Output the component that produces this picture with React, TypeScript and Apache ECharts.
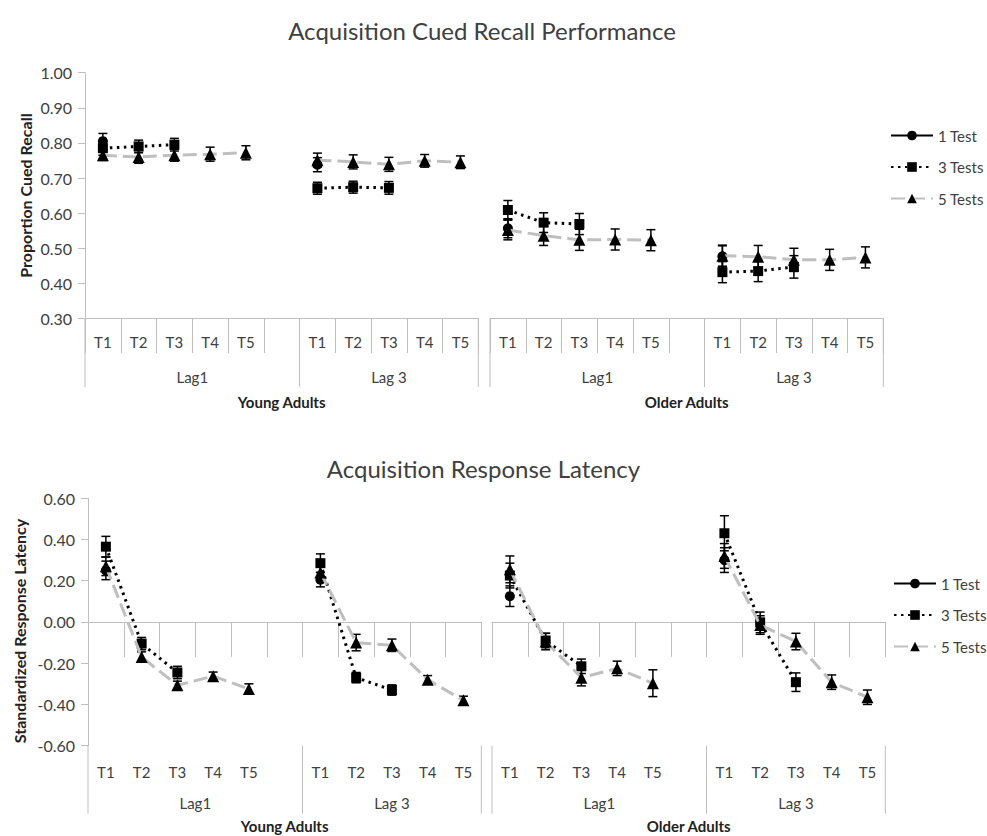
import React, { useEffect, useRef } from "react";
import * as echarts from "echarts";

// Category rows of the multi-level axis
const testLabels = ["T1", "T2", "T3", "T4", "T5", "", "T1", "T2", "T3", "T4", "T5"];
const lagLabels = ["Lag1", "Lag 3"];
const groupLabels = ["Young Adults", "Older Adults"];
const seriesNames = ["1 Test", "3 Tests", "5 Tests"];

// Acquisition cued recall (proportion), slots follow testLabels
const recallYoung1 = [0.805, null, null, null, null, null, 0.738, null, null, null, null];
const recallYoung3 = [0.785, 0.79, 0.795, null, null, null, 0.671, 0.674, 0.672, null, null];
const recallYoung5 = [0.765, 0.76, 0.765, 0.768, 0.772, null, 0.751, 0.746, 0.739, 0.749, 0.745];
const recallOlder1 = [0.557, null, null, null, null, null, 0.477, null, null, null, null];
const recallOlder3 = [0.609, 0.573, 0.569, null, null, null, 0.432, 0.435, 0.447, null, null];
const recallOlder5 = [0.552, 0.536, 0.524, 0.525, 0.523, null, 0.479, 0.476, 0.467, 0.467, 0.474];

// Standard errors for the recall means
const recallYoung1Err = [0.022, null, null, null, null, null, 0.02, null, null, null, null];
const recallYoung3Err = [0.02, 0.018, 0.018, null, null, null, 0.017, 0.017, 0.018, null, null];
const recallYoung5Err = [0.015, 0.018, 0.017, 0.02, 0.02, null, 0.02, 0.02, 0.02, 0.018, 0.018];
const recallOlder1Err = [0.027, null, null, null, null, null, 0.03, null, null, null, null];
const recallOlder3Err = [0.027, 0.028, 0.03, null, null, null, 0.03, 0.03, 0.032, null, null];
const recallOlder5Err = [0.028, 0.028, 0.03, 0.03, 0.03, null, 0.03, 0.032, 0.033, 0.03, 0.03];

// Acquisition response latency (standardized), slots follow testLabels
const latencyYoung1 = [0.25, null, null, null, null, null, 0.205, null, null, null, null];
const latencyYoung3 = [0.365, -0.105, -0.245, null, null, null, 0.285, -0.27, -0.33, null, null];
const latencyYoung5 = [0.27, -0.17, -0.307, -0.263, -0.325, null, 0.24, -0.1, -0.113, -0.28, -0.38];
const latencyOlder1 = [0.125, null, null, null, null, null, 0.3, null, null, null, null];
const latencyOlder3 = [0.225, -0.09, -0.215, null, null, null, 0.43, -0.002, -0.292, null, null];
const latencyOlder5 = [0.255, -0.095, -0.27, -0.225, -0.297, null, 0.32, -0.015, -0.095, -0.292, -0.365];

// Standard errors for the latency means
const latencyYoung1Err = [0.045, null, null, null, null, null, 0.035, null, null, null, null];
const latencyYoung3Err = [0.05, 0.03, 0.03, null, null, null, 0.045, 0.025, 0.025, null, null];
const latencyYoung5Err = [0.045, 0.025, 0.02, 0.02, 0.025, null, 0.04, 0.04, 0.03, 0.02, 0.02];
const latencyOlder1Err = [0.05, null, null, null, null, null, 0.06, null, null, null, null];
const latencyOlder3Err = [0.06, 0.035, 0.035, null, null, null, 0.085, 0.05, 0.045, null, null];
const latencyOlder5Err = [0.065, 0.04, 0.04, 0.035, 0.065, null, 0.06, 0.045, 0.04, 0.035, 0.035];

const FONT = "Lato";
const TEXT = "#404040";
const AXIS = "#bfbfbf";

const styles = [
  { symbol: "circle", line: { color: "#000", width: 2.5, type: "solid" } },
  { symbol: "rect", line: { color: "#000", width: 3, type: [2.5, 4.5] } },
  { symbol: "triangle", line: { color: "#bfbfbf", width: 3, type: [14, 6] } },
];

type Panel = {
  title: string;
  axisTitle: string;
  titleX: number;
  titleY: number;
  axisTitleX: number;
  axisTitleY: number;
  top: number;
  height: number;
  lefts: number[];
  width: number;
  min: number;
  max: number;
  interval: number;
  tRow: number;
  lagRow: number;
  groupRow: number;
  shortTick: number;
  longTick: number;
  legendLeft: number;
  legendTop: number;
  values: (number | null)[][][];
  errors: (number | null)[][][];
};

const panels: Panel[] = [
  {
    title: "Acquisition Cued Recall Performance",
    axisTitle: "Proportion Cued Recall",
    titleX: 482,
    titleY: 30,
    axisTitleX: 25,
    axisTitleY: 195.6,
    top: 72.7,
    height: 245.8,
    lefts: [85, 490],
    width: 393.3,
    min: 0.3,
    max: 1.0,
    interval: 0.1,
    tRow: 23,
    lagRow: 58,
    groupRow: 83.5,
    shortTick: 34.5,
    longTick: 68.5,
    legendLeft: 885,
    legendTop: 123,
    values: [
      [recallYoung1, recallYoung3, recallYoung5],
      [recallOlder1, recallOlder3, recallOlder5],
    ],
    errors: [
      [recallYoung1Err, recallYoung3Err, recallYoung5Err],
      [recallOlder1Err, recallOlder3Err, recallOlder5Err],
    ],
  },
  {
    title: "Acquisition Response Latency",
    axisTitle: "Standardized Response Latency",
    titleX: 483.5,
    titleY: 468,
    axisTitleX: 19,
    axisTitleY: 631,
    top: 498.2,
    height: 247.5,
    lefts: [88, 492],
    width: 393.3,
    min: -0.6,
    max: 0.6,
    interval: 0.2,
    tRow: 26,
    lagRow: 57,
    groupRow: 80,
    shortTick: 35,
    longTick: 68,
    legendLeft: 888,
    legendTop: 571,
    values: [
      [latencyYoung1, latencyYoung3, latencyYoung5],
      [latencyOlder1, latencyOlder3, latencyOlder5],
    ],
    errors: [
      [latencyYoung1Err, latencyYoung3Err, latencyYoung5Err],
      [latencyOlder1Err, latencyOlder3Err, latencyOlder5Err],
    ],
  },
];

function errorBar(params: any, api: any) {
  const x = api.value(0);
  const lo = api.coord([x, api.value(1)]);
  const hi = api.coord([x, api.value(2)]);
  const hw = 4.5;
  const style = { stroke: "#000", lineWidth: 1.5 };
  return {
    type: "group",
    children: [
      { type: "line", shape: { x1: hi[0], y1: hi[1], x2: lo[0], y2: lo[1] }, style },
      { type: "line", shape: { x1: hi[0] - hw, y1: hi[1], x2: hi[0] + hw, y2: hi[1] }, style },
      { type: "line", shape: { x1: lo[0] - hw, y1: lo[1], x2: lo[0] + hw, y2: lo[1] }, style },
    ],
  };
}

function buildOption() {
  const grid: any[] = [];
  const xAxis: any[] = [];
  const yAxis: any[] = [];
  const series: any[] = [];
  const legend: any[] = [];
  const graphic: any[] = [];

  panels.forEach((p) => {
    graphic.push({
      type: "text",
      x: p.titleX,
      y: p.titleY,
      style: { text: p.title, fill: TEXT, font: `24px ${FONT}`, align: "center", verticalAlign: "middle" },
    });
    graphic.push({
      type: "text",
      x: p.axisTitleX,
      y: p.axisTitleY,
      rotation: Math.PI / 2,
      style: { text: p.axisTitle, fill: "#222", font: `bold 16px ${FONT}`, align: "center", verticalAlign: "middle" },
    });

    const axisY = p.top + p.height;
    p.lefts.forEach((left, g) => {
      const gi = grid.length;
      grid.push({ left, top: p.top, width: p.width, height: p.height });
      xAxis.push({
        gridIndex: gi,
        type: "category",
        data: testLabels,
        boundaryGap: true,
        axisLine: { lineStyle: { color: AXIS, width: 1 } },
        axisTick: { show: true, interval: 0, length: p.shortTick, lineStyle: { color: AXIS } },
        axisLabel: { interval: 0, margin: p.tRow, verticalAlign: "middle", fontSize: 15, color: TEXT, fontFamily: FONT },
        splitLine: { show: false },
      });
      yAxis.push({
        gridIndex: gi,
        type: "value",
        min: p.min,
        max: p.max,
        interval: p.interval,
        show: g === 0,
        axisLine: { show: true, lineStyle: { color: AXIS } },
        axisTick: { show: true, length: 7, lineStyle: { color: AXIS } },
        axisLabel: {
          fontSize: 16,
          color: TEXT,
          fontFamily: FONT,
          margin: 13,
          formatter: (v: number) => v.toFixed(2),
        },
        splitLine: { show: false },
      });

      const cw = p.width / testLabels.length;
      // Lag-level separators and labels (Lag1 spans 6 slots, Lag 3 spans 5)
      [0, 6, 11].forEach((k) => {
        graphic.push({
          type: "line",
          shape: { x1: left + k * cw, y1: axisY, x2: left + k * cw, y2: axisY + p.longTick },
          style: { stroke: AXIS, lineWidth: 1 },
        });
      });
      const lagCenters = [left + 3 * cw, left + 8.5 * cw];
      lagLabels.forEach((lab, li) => {
        graphic.push({
          type: "text",
          x: lagCenters[li],
          y: axisY + p.lagRow,
          style: { text: lab, fill: TEXT, font: `15px ${FONT}`, align: "center", verticalAlign: "middle" },
        });
      });
      graphic.push({
        type: "text",
        x: left + p.width / 2,
        y: axisY + p.groupRow,
        style: { text: groupLabels[g], fill: "#222", font: `bold 15px ${FONT}`, align: "center", verticalAlign: "middle" },
      });

      seriesNames.forEach((name, si) => {
        const vals = p.values[g][si];
        const errs = p.errors[g][si];
        series.push({
          type: "custom",
          name: name + " SE",
          xAxisIndex: gi,
          yAxisIndex: gi,
          renderItem: errorBar,
          encode: { x: 0, y: [1, 2] },
          data: vals
            .map((v, i) => (v === null ? null : [i, v - (errs[i] as number), v + (errs[i] as number)]))
            .filter((d) => d !== null),
          z: 3,
        });
      });
      seriesNames.forEach((name, si) => {
        const st = styles[si];
        series.push({
          type: "line",
          name,
          xAxisIndex: gi,
          yAxisIndex: gi,
          data: p.values[g][si],
          connectNulls: false,
          symbol: st.symbol,
          symbolSize: si === 2 ? 12 : 10,
          showSymbol: true,
          itemStyle: { color: "#000" },
          lineStyle: { ...st.line },
          z: 4 + si,
        });
      });
    });

    legend.push({
      orient: "vertical",
      left: p.legendLeft,
      top: p.legendTop,
      itemWidth: 42,
      itemHeight: 12,
      itemGap: 16.5,
      data: seriesNames,
      textStyle: { fontSize: 15, color: TEXT, fontFamily: FONT },
      selectedMode: false,
    });
  });

  return {
    animation: false,
    backgroundColor: "#ffffff",
    textStyle: { fontFamily: FONT },
    grid,
    xAxis,
    yAxis,
    series,
    legend,
    graphic,
  };
}

export default function App() {
  const ref = useRef<HTMLDivElement>(null);
  useEffect(() => {
    if (!ref.current) return;
    const chart = echarts.init(ref.current, undefined, { renderer: "svg" });
    chart.setOption(buildOption() as any);
    return () => chart.dispose();
  }, []);
  return (
    <div
      ref={ref}
      style={{ position: "absolute", left: 0, top: 0, width: 987, height: 836, background: "#fff" }}
    />
  );
}
